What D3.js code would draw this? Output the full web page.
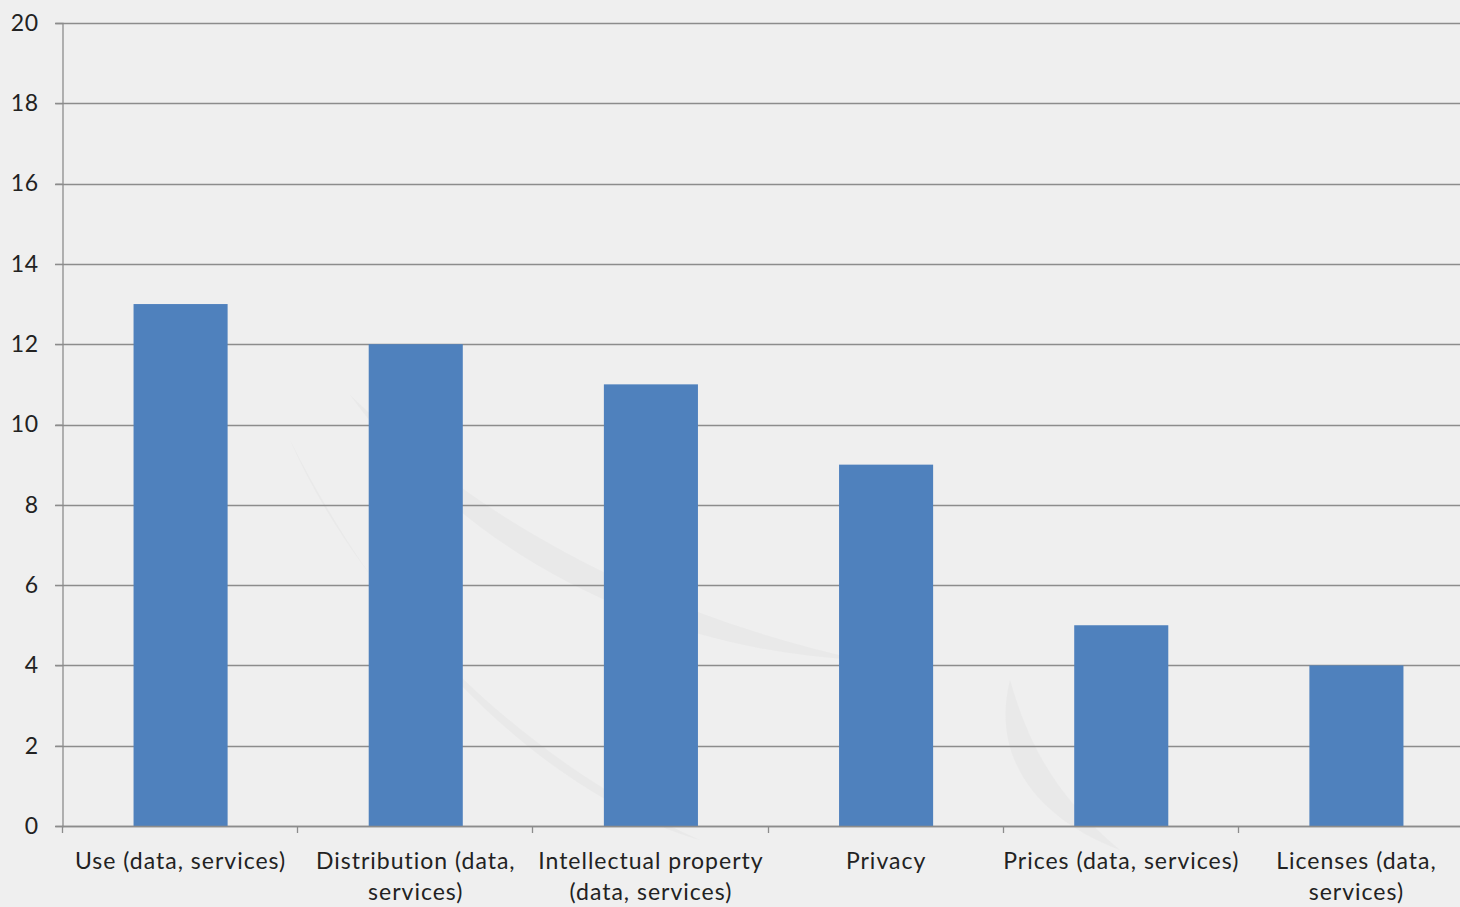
<!DOCTYPE html>
<html>
<head>
<meta charset="utf-8">
<script src="https://cdn.jsdelivr.net/npm/d3@7"></script>
<style>
  html, body { margin: 0; padding: 0; background: #efefef; }
  svg { display: block; }
  text { font-family: Lato, "Open Sans", sans-serif; fill: #222; }
</style>
</head>
<body>
<svg id="chart" width="1460" height="907"></svg>
<script>
const categories = [
  "Use (data, services)",
  "Distribution (data,\nservices)",
  "Intellectual property\n(data, services)",
  "Privacy",
  "Prices (data, services)",
  "Licenses (data,\nservices)"
];
const values = [13, 12, 11, 9, 5, 4];
const yTicks = [0, 2, 4, 6, 8, 10, 12, 14, 16, 18, 20];

const W = 1460, H = 907;
const margin = { left: 62, right: -13, top: 23, bottom: 81 };
const svg = d3.select("#chart");
const FONT = "Lato, 'Open Sans', sans-serif";

svg.append("rect").attr("width", W).attr("height", H).attr("fill", "#efefef");

// faint watermark swirls
const wm = svg.append("g").attr("fill", "#e7e7e7").attr("opacity", 0.7);
wm.append("path").attr("d", "M290,440 C360,600 520,760 700,840 C560,800 400,660 290,440 Z");
wm.append("path").attr("d", "M350,395 C480,520 640,610 860,660 C660,650 470,560 350,395 Z");
wm.append("path").attr("d", "M1010,680 C990,760 1040,820 1120,850 C1060,800 1030,750 1010,680 Z");

const x = d3.scaleBand()
  .domain(categories)
  .range([margin.left, W - margin.right])
  .paddingInner(0.6)
  .paddingOuter(0.3);

const y = d3.scaleLinear()
  .domain([0, 20])
  .range([H - margin.bottom, margin.top]);

// gridlines
svg.append("g")
  .selectAll("line")
  .data(yTicks)
  .join("line")
  .attr("x1", margin.left - 7)
  .attr("x2", W)
  .attr("y1", d => Math.round(y(d)) + 0.5)
  .attr("y2", d => Math.round(y(d)) + 0.5)
  .attr("stroke", "#8c8c8c")
  .attr("stroke-width", 1.3);

// bars
svg.append("g")
  .selectAll("rect")
  .data(values)
  .join("rect")
  .attr("x", (d, i) => x(categories[i]) + 1)
  .attr("width", x.bandwidth())
  .attr("y", d => y(d))
  .attr("height", d => y(0) - y(d))
  .attr("fill", "#4f81bd");

// y axis
const yAxis = d3.axisLeft(y).tickValues(yTicks).tickSize(7).tickPadding(17);
const gy = svg.append("g")
  .attr("transform", `translate(${margin.left + 0.5},0)`)
  .call(yAxis);
gy.select(".domain").attr("stroke", "#8c8c8c").attr("stroke-width", 1.3);
gy.selectAll(".tick line").attr("stroke", "#8c8c8c");
gy.selectAll(".tick text").attr("font-size", 23).attr("fill", "#222")
  .attr("letter-spacing", 0.5)
  .style("font-family", FONT);

// x axis
const step = x.step();
const boundaries = d3.range(categories.length + 1).map(i => margin.left + i * step);
svg.append("line")
  .attr("x1", margin.left).attr("x2", W)
  .attr("y1", Math.round(y(0)) + 0.5).attr("y2", Math.round(y(0)) + 0.5)
  .attr("stroke", "#8c8c8c").attr("stroke-width", 1.3);
svg.append("g").selectAll("line")
  .data(boundaries)
  .join("line")
  .attr("x1", d => Math.round(d) + 0.5).attr("x2", d => Math.round(d) + 0.5)
  .attr("y1", y(0)).attr("y2", y(0) + 7)
  .attr("stroke", "#8c8c8c").attr("stroke-width", 1.3);

const labels = svg.append("g")
  .selectAll("text")
  .data(categories)
  .join("text")
  .attr("text-anchor", "middle")
  .attr("font-size", 23)
  .attr("letter-spacing", 1)
  .attr("transform", d => `translate(${x(d) + x.bandwidth() / 2 + 1},${y(0) + 43})`);
labels.each(function(d) {
  const t = d3.select(this);
  d.split("\n").forEach((line, i) => {
    t.append("tspan").attr("x", 0).attr("dy", i === 0 ? 0 : 31).text(line);
  });
});
</script>
</body>
</html>
